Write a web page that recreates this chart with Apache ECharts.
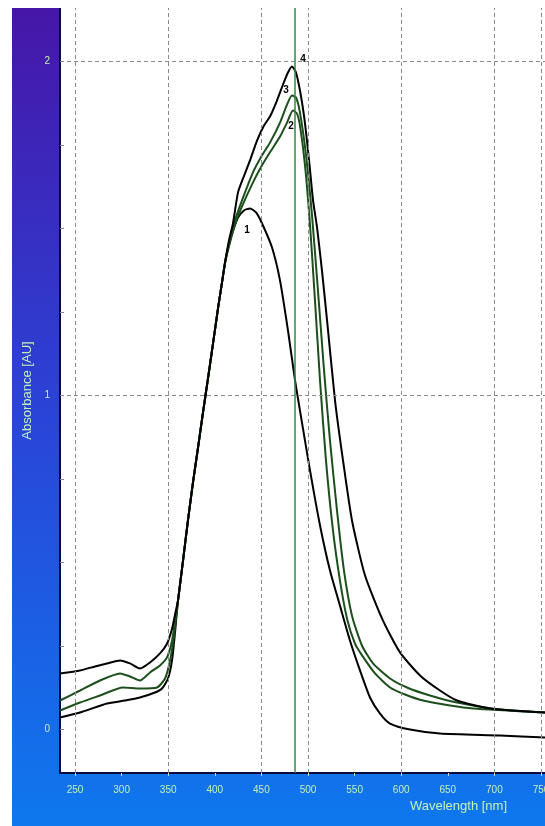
<!DOCTYPE html>
<html>
<head>
<meta charset="utf-8">
<script src="https://cdn.jsdelivr.net/npm/echarts@6/dist/echarts.min.js"></script>
<style>
  html, body { margin: 0; padding: 0; background: #fff; overflow: hidden; }
  #chart { position: absolute; left: 12px; top: 8px; width: 533px; height: 818px; }
</style>
</head>
<body>
<div id="chart"></div>
<script>
// axis ticks (wavelength in nm, absorbance in AU)
const xTickValues = [250, 300, 350, 400, 450, 500, 550, 600, 650, 700, 750];
const xGridValues = [250, 350, 450, 500, 600, 700, 750];
const yLabelValues = [0, 1, 2];
const yTickValues = [0, 0.25, 0.5, 0.75, 1, 1.25, 1.5, 1.75, 2];
const yGridValues = [1, 2];
const cursorWavelength = 486;

// spectra: [wavelength, absorbance]
const curve1 = [
  [233.9, 0.036], [255.4, 0.051], [284.3, 0.078], [303.7, 0.087], [319.7, 0.096], [335.8, 0.111],
  [343.4, 0.123], [349.8, 0.153], [354.1, 0.207], [357.3, 0.290], [360.5, 0.386], [365.9, 0.506],
  [371.2, 0.626], [376.6, 0.740], [382.0, 0.844], [387.3, 0.949], [392.7, 1.051], [398.1, 1.156],
  [403.4, 1.260], [407.7, 1.338], [411.0, 1.398], [414.2, 1.443], [418.5, 1.485], [424.9, 1.533],
  [431.3, 1.554], [437.8, 1.560], [444.2, 1.548], [450.7, 1.515], [461.4, 1.443], [470.0, 1.344],
  [478.5, 1.195], [486.1, 1.045], [491.4, 0.955], [502.2, 0.775], [512.9, 0.611], [523.6, 0.476],
  [534.3, 0.371], [545.1, 0.266], [555.8, 0.177], [566.5, 0.096], [577.3, 0.048], [588.0, 0.018],
  [609.5, 0.000], [641.6, -0.012], [706.0, -0.018], [754.3, -0.024]
];
const curve2 = [
  [233.9, 0.057], [255.4, 0.081], [276.8, 0.102], [301.5, 0.126], [319.7, 0.123], [338.0, 0.126],
  [346.6, 0.153], [352.0, 0.207], [356.2, 0.281], [360.5, 0.386], [365.9, 0.506], [371.2, 0.626],
  [376.6, 0.740], [382.0, 0.844], [387.3, 0.949], [392.7, 1.051], [398.1, 1.156], [403.4, 1.260],
  [407.7, 1.338], [411.0, 1.398], [415.2, 1.446], [421.7, 1.512], [429.2, 1.566], [441.0, 1.638],
  [450.7, 1.689], [459.2, 1.728], [470.0, 1.775], [477.5, 1.817], [483.9, 1.853], [488.2, 1.844],
  [491.4, 1.808], [496.8, 1.689], [502.2, 1.509], [507.5, 1.284], [512.9, 1.045], [519.3, 0.805],
  [526.8, 0.596], [534.3, 0.446], [541.9, 0.332], [550.4, 0.257], [558.0, 0.222], [571.9, 0.168],
  [588.0, 0.126], [604.1, 0.105], [623.4, 0.087], [652.4, 0.072], [677.1, 0.063], [754.3, 0.051]
];
const curve3 = [
  [233.9, 0.087], [255.4, 0.117], [276.8, 0.147], [298.3, 0.168], [309.0, 0.159], [319.7, 0.147],
  [330.5, 0.171], [341.2, 0.192], [348.7, 0.216], [354.1, 0.266], [357.3, 0.326], [360.5, 0.386],
  [365.9, 0.506], [371.2, 0.626], [376.6, 0.740], [382.0, 0.844], [387.3, 0.949], [392.7, 1.051],
  [398.1, 1.156], [403.4, 1.260], [407.7, 1.338], [411.0, 1.398], [415.2, 1.452], [421.7, 1.524],
  [429.2, 1.584], [441.0, 1.668], [450.7, 1.719], [459.2, 1.757], [470.0, 1.817], [477.5, 1.871],
  [482.8, 1.898], [487.1, 1.892], [491.4, 1.847], [497.9, 1.719], [504.3, 1.539], [510.7, 1.314],
  [517.2, 1.075], [523.6, 0.865], [531.1, 0.656], [538.6, 0.476], [547.2, 0.341], [558.0, 0.251],
  [569.8, 0.198], [588.0, 0.153], [606.2, 0.126], [630.9, 0.102], [659.9, 0.081], [706.0, 0.060],
  [754.3, 0.051]
];
const curve4 = [
  [233.9, 0.168], [255.4, 0.177], [271.5, 0.189], [284.3, 0.198], [298.3, 0.207], [309.0, 0.198],
  [319.7, 0.183], [330.5, 0.201], [341.2, 0.228], [348.7, 0.257], [354.1, 0.302], [357.3, 0.344],
  [360.5, 0.386], [365.9, 0.506], [371.2, 0.626], [376.6, 0.740], [382.0, 0.844], [387.3, 0.949],
  [392.7, 1.051], [398.1, 1.156], [403.4, 1.260], [407.7, 1.338], [411.0, 1.398], [415.2, 1.464],
  [419.5, 1.515], [424.9, 1.608], [430.3, 1.650], [437.8, 1.704], [445.3, 1.763], [452.8, 1.808],
  [459.2, 1.835], [466.7, 1.883], [473.2, 1.931], [478.5, 1.967], [482.8, 1.985], [487.1, 1.967],
  [491.4, 1.913], [495.7, 1.838], [498.9, 1.763], [502.2, 1.674], [505.4, 1.584], [509.7, 1.503],
  [515.0, 1.374], [521.5, 1.195], [529.0, 0.985], [537.6, 0.805], [547.2, 0.626], [561.2, 0.461],
  [580.5, 0.326], [598.7, 0.231], [620.2, 0.162], [641.6, 0.117], [659.9, 0.087], [695.3, 0.063],
  [754.3, 0.051]
];

const curveNames = ['1', '2', '3', '4'];
const curveData = [curve1, curve2, curve3, curve4];
const curveColors = ['#000000', '#1d4f1d', '#1d4f1d', '#000000'];
// where each number sits relative to its peak
const labelOffsets = [[-3, 22], [-2, 16], [-6, -5], [11, -7]];

const textColor = '#c4f0b4';
const gridLine = {color: '#8a8a8a', type: [4, 3], width: 1};

const chart = echarts.init(document.getElementById('chart'));

const series = curveData.map((d, i) => ({
  name: curveNames[i],
  type: 'line',
  data: d,
  showSymbol: false,
  smooth: 0.2,
  lineStyle: {color: curveColors[i], width: 2},
  z: 3,
  markPoint: {
    symbol: 'circle',
    symbolSize: 0,
    silent: true,
    data: [{type: 'max', valueDim: 'y'}],
    label: {
      show: true,
      formatter: curveNames[i],
      color: '#000',
      fontSize: 10,
      fontWeight: 'bold',
      offset: labelOffsets[i]
    }
  }
}));

// gridlines and the green cursor line
series.push({
  type: 'line',
  data: [],
  silent: true,
  z: 1,
  markLine: {
    symbol: 'none',
    silent: true,
    label: {show: false},
    lineStyle: gridLine,
    data: [
      ...xGridValues.map(v => ({xAxis: v})),
      ...yGridValues.map(v => ({yAxis: v})),
      {xAxis: cursorWavelength, lineStyle: {color: '#2e8b3a', type: 'solid', width: 1.5}}
    ]
  }
});

chart.setOption({
  backgroundColor: new echarts.graphic.LinearGradient(0, 0, 0, 1, [
    {offset: 0, color: '#4616a8'},
    {offset: 0.5, color: '#2a44d8'},
    {offset: 1, color: '#0e78ee'}
  ]),
  animation: false,
  grid: {
    left: 48, right: 0, top: 0, bottom: 53,
    outerBoundsMode: 'none',
    show: true, backgroundColor: '#ffffff', borderWidth: 0
  },
  xAxis: {
    type: 'value',
    min: 233.9,
    max: 754.3,
    name: 'Wavelength [nm]',
    nameLocation: 'middle',
    nameGap: 23,
    nameTextStyle: {color: textColor, fontSize: 13, padding: [0, 0, 0, 312]},
    axisLine: {onZero: false, lineStyle: {color: '#0a0a3a', width: 2}},
    axisTick: {show: true, customValues: xTickValues, length: 3, lineStyle: {color: '#d0d0d0'}},
    axisLabel: {customValues: xTickValues, color: textColor, fontSize: 10, margin: 12},
    splitLine: {show: false}
  },
  yAxis: {
    type: 'value',
    min: -0.13,
    max: 2.16,
    name: 'Absorbance [AU]',
    nameLocation: 'middle',
    nameRotate: 90,
    nameGap: 22,
    nameTextStyle: {color: textColor, fontSize: 13},
    axisLine: {show: true, onZero: false, lineStyle: {color: '#0a0a3a', width: 2}},
    axisTick: {show: true, inside: true, customValues: yTickValues, length: 4, lineStyle: {color: '#888'}},
    axisLabel: {customValues: yLabelValues, color: textColor, fontSize: 10, margin: 10},
    splitLine: {show: false}
  },
  series: series
});
</script>
</body>
</html>
